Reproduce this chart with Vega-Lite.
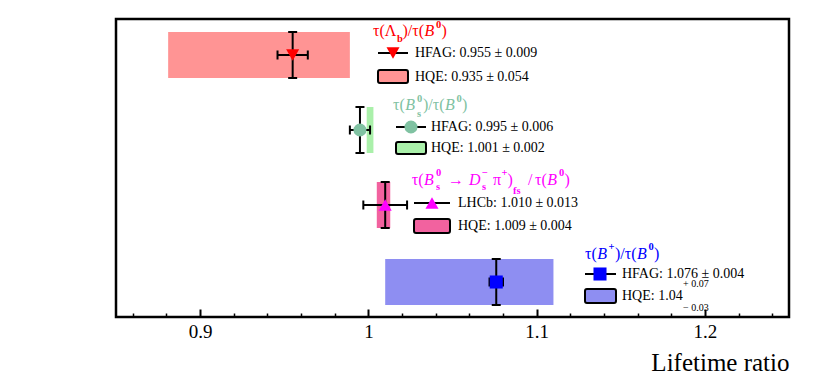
{
  "$schema": "https://vega.github.io/schema/vega-lite/v6.json",
  "width": 673,
  "height": 298,
  "autosize": {"type": "none"},
  "padding": {"left": 116, "top": 19, "right": 41, "bottom": 62},
  "background": "white",
  "config": {"view": {"stroke": "#000", "strokeWidth": 2.5}, "font": "Times New Roman, Liberation Serif, serif"},
  "datasets": {
    "pts": [
      {"g": "L", "x": 0.955, "xlo": 0.946, "xhi": 0.964, "y": 262, "ylo": 239, "yhi": 285, "blo": 0.881, "bhi": 0.989},
      {"g": "S", "x": 0.995, "xlo": 0.989, "xhi": 1.001, "y": 187, "ylo": 164, "yhi": 210, "blo": 0.999, "bhi": 1.003},
      {"g": "D", "x": 1.010, "xlo": 0.997, "xhi": 1.023, "y": 112, "ylo": 89, "yhi": 135, "blo": 1.005, "bhi": 1.013},
      {"g": "P", "x": 1.076, "xlo": 1.072, "xhi": 1.080, "y": 35, "ylo": 12, "yhi": 58, "blo": 1.01, "bhi": 1.11}
    ],
    "leg": [
      {"g": "L", "la": 1.00572, "lb": 1.02355, "lm": 1.01464, "ly": 264, "tx": 1.02771, "t1": "HFAG: 0.955 ± 0.009", "by1": 234, "by2": 247, "ty2": 240.5, "t2": "HQE: 0.935 ± 0.054"},
      {"g": "S", "la": 1.01642, "lb": 1.03425, "lm": 1.02533, "ly": 190, "tx": 1.03722, "t1": "HFAG: 0.995 ± 0.006", "by1": 163, "by2": 175, "ty2": 169, "t2": "HQE: 1.001 ± 0.002"},
      {"g": "D", "la": 1.02712, "lb": 1.04851, "lm": 1.03782, "ly": 114, "tx": 1.05327, "t1": "LHCb: 1.010 ± 0.013", "by1": 84, "by2": 98, "ty2": 91, "t2": "HQE: 1.009 ± 0.004"},
      {"g": "P", "la": 1.12875, "lb": 1.14718, "lm": 1.13767, "ly": 43, "tx": 1.15074, "t1": "HFAG: 1.076 ± 0.004", "by1": 14, "by2": 28, "ty2": 21, "t2": "HQE: 1.04"}
    ],
    "frag": [
      {"g": "L", "k": "m", "x": 1.00275, "y": 281, "t": "τ(Λ"},
      {"g": "L", "k": "s", "x": 1.01701, "y": 275, "t": "b"},
      {"g": "L", "k": "m", "x": 1.02028, "y": 281, "t": ")/τ("},
      {"g": "L", "k": "i", "x": 1.03336, "y": 281, "t": "B"},
      {"g": "L", "k": "s", "x": 1.04019, "y": 289, "t": "0"},
      {"g": "L", "k": "m", "x": 1.04346, "y": 281, "t": ")"},
      {"g": "S", "k": "m", "x": 1.01464, "y": 207, "t": "τ("},
      {"g": "S", "k": "i", "x": 1.02195, "y": 207, "t": "B"},
      {"g": "S", "k": "s", "x": 1.0289, "y": 215, "t": "0"},
      {"g": "S", "k": "s", "x": 1.0289, "y": 200, "t": "s"},
      {"g": "S", "k": "m", "x": 1.03247, "y": 207, "t": ")/τ("},
      {"g": "S", "k": "i", "x": 1.04554, "y": 207, "t": "B"},
      {"g": "S", "k": "s", "x": 1.05238, "y": 215, "t": "0"},
      {"g": "S", "k": "m", "x": 1.05565, "y": 207, "t": ")"},
      {"g": "D", "k": "m", "x": 1.02575, "y": 132.5, "t": "τ("},
      {"g": "D", "k": "i", "x": 1.03306, "y": 132.5, "t": "B"},
      {"g": "D", "k": "s", "x": 1.04019, "y": 141, "t": "0"},
      {"g": "D", "k": "s", "x": 1.04019, "y": 127, "t": "s"},
      {"g": "D", "k": "m", "x": 1.04733, "y": 132.5, "t": "→"},
      {"g": "D", "k": "i", "x": 1.05981, "y": 132.5, "t": "D"},
      {"g": "D", "k": "s", "x": 1.06753, "y": 141, "t": "−"},
      {"g": "D", "k": "s", "x": 1.06753, "y": 127, "t": "s"},
      {"g": "D", "k": "m", "x": 1.07407, "y": 132.5, "t": "π"},
      {"g": "D", "k": "s", "x": 1.07912, "y": 141, "t": "+"},
      {"g": "D", "k": "m", "x": 1.08269, "y": 132.5, "t": ")"},
      {"g": "D", "k": "s", "x": 1.08596, "y": 123, "t": "fs"},
      {"g": "D", "k": "m", "x": 1.09487, "y": 132.5, "t": "/"},
      {"g": "D", "k": "m", "x": 1.09903, "y": 132.5, "t": "τ("},
      {"g": "D", "k": "i", "x": 1.10634, "y": 132.5, "t": "B"},
      {"g": "D", "k": "s", "x": 1.1133, "y": 141, "t": "0"},
      {"g": "D", "k": "m", "x": 1.11657, "y": 132.5, "t": ")"},
      {"g": "P", "k": "m", "x": 1.12875, "y": 58, "t": "τ("},
      {"g": "P", "k": "i", "x": 1.13606, "y": 58, "t": "B"},
      {"g": "P", "k": "s", "x": 1.14272, "y": 67, "t": "+"},
      {"g": "P", "k": "m", "x": 1.14658, "y": 58, "t": ")/τ("},
      {"g": "P", "k": "i", "x": 1.15966, "y": 58, "t": "B"},
      {"g": "P", "k": "s", "x": 1.16649, "y": 67, "t": "0"},
      {"g": "P", "k": "m", "x": 1.16976, "y": 58, "t": ")"},
      {"g": "K", "k": "n", "x": 1.187, "y": 30, "t": "+ 0.07"},
      {"g": "K", "k": "n", "x": 1.187, "y": 6, "t": "− 0.03"}
    ]
  },
  "resolve": {"axis": {"x": "independent"}},
  "layer": [
    {
      "data": {"name": "pts"},
      "mark": {"type": "rect"},
      "encoding": {
        "x": {"field": "blo", "type": "quantitative", "scale": {"domain": [0.85, 1.25], "nice": false, "zero": false},
          "axis": {"orient": "bottom", "values": [0.9, 1, 1.1, 1.2], "format": "~g", "tickSize": -8, "tickWidth": 2, "tickColor": "#000", "domain": false, "grid": false,
            "labelFont": "Times New Roman, Liberation Serif, serif", "labelFontSize": 19, "labelColor": "#000", "labelPadding": 13, "labelFlush": false, "labelOverlap": false,
            "title": "Lifetime ratio", "titleFont": "Times New Roman, Liberation Serif, serif", "titleFontSize": 25, "titleFontWeight": "normal", "titleColor": "#000", "titleAnchor": "end", "titleAlign": "right", "titlePadding": 9}},
        "x2": {"field": "bhi"},
        "y": {"field": "ylo", "type": "quantitative", "scale": {"domain": [0, 298], "nice": false, "zero": false}, "axis": null},
        "y2": {"field": "yhi"},
        "fill": {"field": "g", "type": "nominal", "scale": {"domain": ["L", "S", "D", "P"], "range": ["#ff9494", "#aaf0aa", "#f2629f", "#8e8ef2"]}, "legend": null}
      }
    },
    {
      "data": {"name": "pts"},
      "mark": {"type": "rule", "color": "#000", "strokeWidth": 2},
      "encoding": {
        "x": {"field": "x", "type": "quantitative",
          "axis": {"orient": "bottom", "values": [0.86, 0.88, 0.92, 0.94, 0.96, 0.98, 1.02, 1.04, 1.06, 1.08, 1.12, 1.14, 1.16, 1.18, 1.22, 1.24], "tickSize": -4, "tickWidth": 1.5, "tickColor": "#000", "labels": false, "domain": false, "grid": false, "title": null}},
        "y": {"field": "ylo", "type": "quantitative", "axis": null},
        "y2": {"field": "yhi"}
      }
    },
    {
      "data": {"name": "pts"},
      "mark": {"type": "rule", "color": "#000", "strokeWidth": 2},
      "encoding": {
        "x": {"field": "xlo", "type": "quantitative", "axis": null},
        "x2": {"field": "xhi"},
        "y": {"field": "y", "type": "quantitative", "axis": null}
      }
    },
    {
      "data": {"name": "pts"},
      "mark": {"type": "tick", "orient": "horizontal", "size": 9, "thickness": 2, "color": "#000", "opacity": 1},
      "encoding": {"x": {"field": "x", "type": "quantitative", "axis": null}, "y": {"field": "ylo", "type": "quantitative", "axis": null}}
    },
    {
      "data": {"name": "pts"},
      "mark": {"type": "tick", "orient": "horizontal", "size": 9, "thickness": 2, "color": "#000", "opacity": 1},
      "encoding": {"x": {"field": "x", "type": "quantitative", "axis": null}, "y": {"field": "yhi", "type": "quantitative", "axis": null}}
    },
    {
      "data": {"name": "pts"},
      "mark": {"type": "tick", "orient": "vertical", "size": 9, "thickness": 2, "color": "#000", "opacity": 1},
      "encoding": {"x": {"field": "xlo", "type": "quantitative", "axis": null}, "y": {"field": "y", "type": "quantitative", "axis": null}}
    },
    {
      "data": {"name": "pts"},
      "mark": {"type": "tick", "orient": "vertical", "size": 9, "thickness": 2, "color": "#000", "opacity": 1},
      "encoding": {"x": {"field": "xhi", "type": "quantitative", "axis": null}, "y": {"field": "y", "type": "quantitative", "axis": null}}
    },
    {
      "data": {"name": "pts"},
      "mark": {"type": "point", "filled": true, "opacity": 1, "size": 170},
      "encoding": {
        "x": {"field": "x", "type": "quantitative", "axis": null},
        "y": {"field": "y", "type": "quantitative", "axis": null},
        "shape": {"field": "g", "type": "nominal", "scale": {"domain": ["L", "S", "D", "P"], "range": ["triangle-down", "circle", "triangle-up", "square"]}, "legend": null},
        "color": {"field": "g", "type": "nominal", "scale": {"domain": ["L", "S", "D", "P", "K"], "range": ["#ff0000", "#80c2a2", "#ff00ff", "#0000ff", "#000000"]}, "legend": null}
      }
    },
    {
      "data": {"name": "leg"},
      "mark": {"type": "rule", "color": "#000", "strokeWidth": 2},
      "encoding": {
        "x": {"field": "la", "type": "quantitative", "axis": null},
        "x2": {"field": "lb"},
        "y": {"field": "ly", "type": "quantitative", "axis": null}
      }
    },
    {
      "data": {"name": "leg"},
      "mark": {"type": "point", "filled": true, "opacity": 1, "size": 170},
      "encoding": {
        "x": {"field": "lm", "type": "quantitative", "axis": null},
        "y": {"field": "ly", "type": "quantitative", "axis": null},
        "shape": {"field": "g", "type": "nominal", "legend": null},
        "color": {"field": "g", "type": "nominal", "legend": null}
      }
    },
    {
      "data": {"name": "leg"},
      "mark": {"type": "rect", "stroke": "#000", "strokeWidth": 2, "cornerRadius": 2},
      "encoding": {
        "x": {"field": "la", "type": "quantitative", "axis": null},
        "x2": {"field": "lb"},
        "y": {"field": "by1", "type": "quantitative", "axis": null},
        "y2": {"field": "by2"},
        "fill": {"field": "g", "type": "nominal", "legend": null}
      }
    },
    {
      "data": {"name": "leg"},
      "mark": {"type": "text", "align": "left", "baseline": "middle", "fontSize": 14, "font": "Times New Roman, Liberation Serif, serif", "color": "#000"},
      "encoding": {
        "x": {"field": "tx", "type": "quantitative", "axis": null},
        "y": {"field": "ly", "type": "quantitative", "axis": null},
        "text": {"field": "t1"}
      }
    },
    {
      "data": {"name": "leg"},
      "mark": {"type": "text", "align": "left", "baseline": "middle", "fontSize": 14, "font": "Times New Roman, Liberation Serif, serif", "color": "#000"},
      "encoding": {
        "x": {"field": "tx", "type": "quantitative", "axis": null},
        "y": {"field": "ty2", "type": "quantitative", "axis": null},
        "text": {"field": "t2"}
      }
    },
    {
      "data": {"name": "frag"},
      "transform": [{"filter": "datum.k == 'm'"}],
      "mark": {"type": "text", "align": "left", "baseline": "alphabetic", "fontSize": 16, "font": "Times New Roman, Liberation Serif, serif"},
      "encoding": {
        "x": {"field": "x", "type": "quantitative", "axis": null},
        "y": {"field": "y", "type": "quantitative", "axis": null},
        "text": {"field": "t"},
        "color": {"field": "g", "type": "nominal", "legend": null}
      }
    },
    {
      "data": {"name": "frag"},
      "transform": [{"filter": "datum.k == 'i'"}],
      "mark": {"type": "text", "align": "left", "baseline": "alphabetic", "fontSize": 16, "font": "Times New Roman, Liberation Serif, serif", "fontStyle": "italic"},
      "encoding": {
        "x": {"field": "x", "type": "quantitative", "axis": null},
        "y": {"field": "y", "type": "quantitative", "axis": null},
        "text": {"field": "t"},
        "color": {"field": "g", "type": "nominal", "legend": null}
      }
    },
    {
      "data": {"name": "frag"},
      "transform": [{"filter": "datum.k == 's'"}],
      "mark": {"type": "text", "align": "left", "baseline": "alphabetic", "fontSize": 10.5, "font": "Times New Roman, Liberation Serif, serif", "fontWeight": "bold"},
      "encoding": {
        "x": {"field": "x", "type": "quantitative", "axis": null},
        "y": {"field": "y", "type": "quantitative", "axis": null},
        "text": {"field": "t"},
        "color": {"field": "g", "type": "nominal", "legend": null}
      }
    },
    {
      "data": {"name": "frag"},
      "transform": [{"filter": "datum.k == 'n'"}],
      "mark": {"type": "text", "align": "left", "baseline": "alphabetic", "fontSize": 10, "font": "Times New Roman, Liberation Serif, serif"},
      "encoding": {
        "x": {"field": "x", "type": "quantitative", "axis": null},
        "y": {"field": "y", "type": "quantitative", "axis": null},
        "text": {"field": "t"},
        "color": {"field": "g", "type": "nominal", "legend": null}
      }
    }
  ]
}
